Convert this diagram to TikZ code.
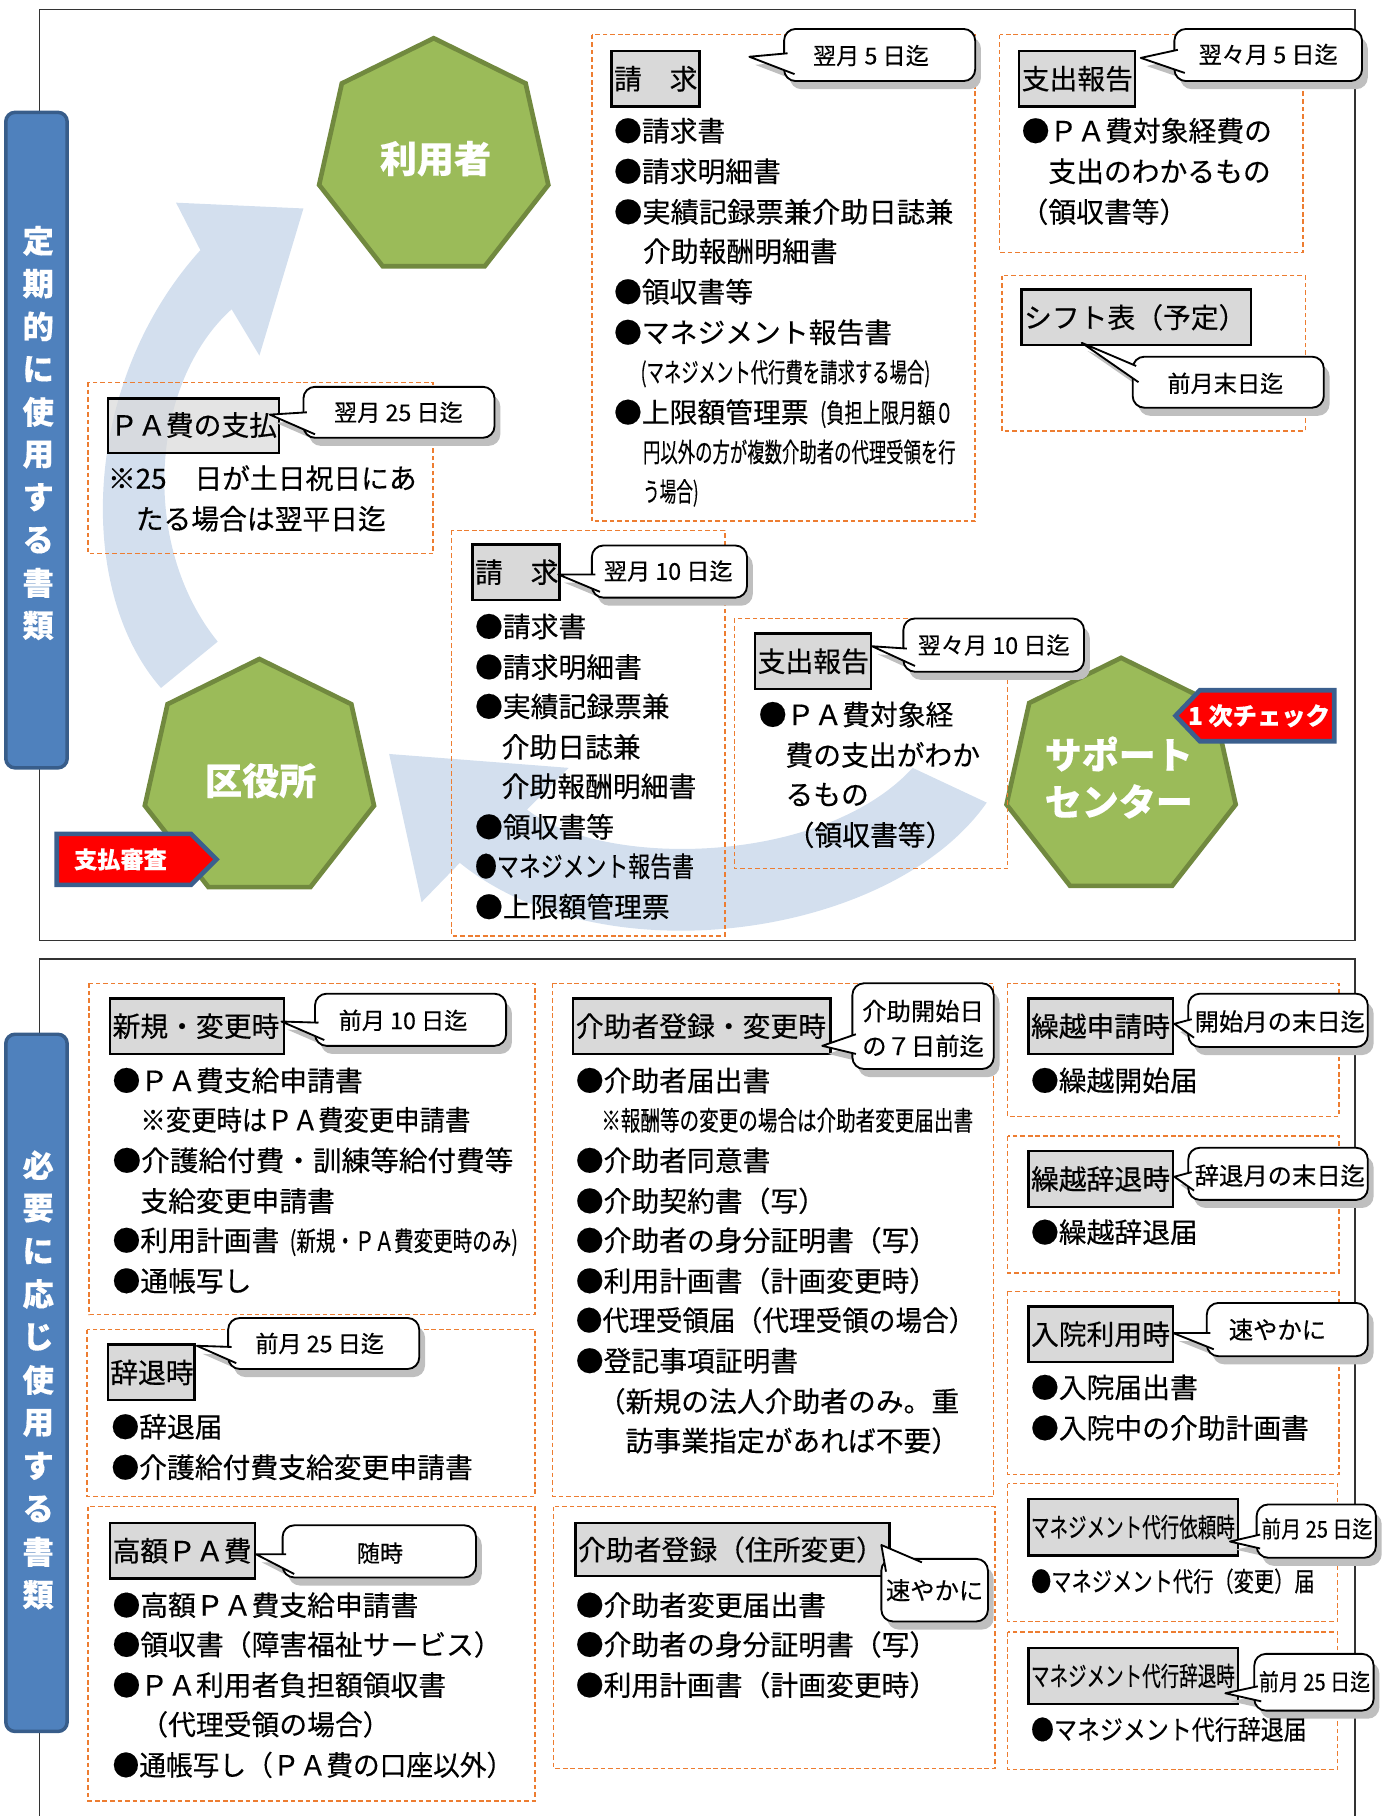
\documentclass[tikz,border=0pt]{standalone}
\usepackage{fontspec}
\setmainfont{Noto Sans CJK JP}[FakeBold=0.35]
\usepackage{graphicx}
\definecolor{dorange}{RGB}{237,125,49}
\definecolor{tgray}{RGB}{217,217,217}
\definecolor{hgreen}{RGB}{155,187,89}
\definecolor{hborder}{RGB}{113,137,63}
\definecolor{ablue}{RGB}{211,223,238}
\definecolor{bblue}{RGB}{79,129,189}
\definecolor{bborder}{RGB}{56,93,138}
\definecolor{tagblue}{RGB}{59,95,142}
\definecolor{shadowc}{RGB}{191,191,191}
\newcommand\fs[1]{\fontsize{#1}{#1}\selectfont}
\newcommand\sq[2]{\resizebox{#1pt}{\height}{#2}}
\newcounter{ln}
\newcommand\tl[3]{\stepcounter{ln}\node[txt] (L\theln) at (#1,{#2+9}) {#3};}
\newcommand\ttl[5]{\stepcounter{ln}\draw[tbox] (#1,#2) rectangle (#3,#4);
  \node[ttxt] (T\theln) at ({#1+2},{(#2+#4)/2}) {#5};}
\newcommand\dbx[4]{\draw[dbox] (#1,#2) rectangle (#3,#4);}
\newcommand\callout[2]{%
  \fill[shadowc, shift={(5,7)}, rounded corners=10pt] #1;
  \fill[shadowc, shift={(5,7)}] #2 -- cycle;
  \draw[callbox] #1;
  \filldraw[fill=white, draw=black, line width=1.6pt, line join=round] #2;}
\newcommand\ctx[3]{\stepcounter{ln}\node[ctxt] (C\theln) at (#1,#2) {#3};}
\newcommand\hept[2]{\draw[hept] (#1,{#2-103.6}) \foreach \k in {1,...,6}{ -- ({#1+101.5*cos(90+\k*360/7)},{#2-103.6*sin(90+\k*360/7)}) } -- cycle;}
\begin{document}
\begin{tikzpicture}[x=1pt,y=-1pt,
  panel/.style={draw=black!80, line width=1.3pt},
  dbox/.style={draw=dorange, dash pattern=on 4pt off 2.5pt, line width=1.2pt},
  tbox/.style={draw=black, fill=tgray, line width=2pt},
  hept/.style={fill=hgreen, draw=hborder, line width=4pt},
  tag/.style={fill=red, draw=tagblue, line width=4pt},
  banner/.style={fill=bblue, draw=bborder, line width=3pt, rounded corners=8pt},
  callbox/.style={draw=black, fill=white, line width=1.6pt, rounded corners=10pt},
  txt/.style={anchor=base west, inner sep=0pt, font=\fs{24}},
  ttxt/.style={anchor=west, inner sep=0pt, font=\fs{24}},
  ctxt/.style={anchor=center, inner sep=0pt, font=\fs{20}},
  hlabel/.style={text=white, font=\bfseries\fs{32}, inner sep=0pt},
  tagtxt/.style={text=white, font=\bfseries\fs{20}, inner sep=0pt},
  bantxt/.style={text=white, font=\bfseries\fs{27}, inner sep=0pt}]
\useasboundingbox (0,0) rectangle (1194,1568);
% panels
\draw[panel] (34,8) rectangle (1170,812);
\draw[panel] (34,1568) -- (34,828) -- (1170,828) -- (1170,1568);
% big curved arrows
\fill[ablue] (139,594) .. controls (65,510) and (70,330) .. (173,216) -- (152,175) -- (262,180) -- (224,307) -- (200,267) .. controls (130,330) and (120,470) .. (188,554) -- cycle;
\fill[ablue] (336,651) -- (491,663) -- (455,699) .. controls (520,750) and (710,748) .. (788,663) -- (852,693) .. controls (770,810) and (520,845) .. (397,745) -- (364,779) -- cycle;
% heptagons
\hept{374.5}{136.6}
\hept{224}{672.6}
\hept{968}{671.6}
\node[hlabel] (riyo) at (376,137) {利用者};
\node[hlabel] (kuyaku) at (225,674) {区役所};
\node[hlabel] (sc1) at (966,651) {サポート};
\node[hlabel] (sc2) at (966,692) {センター};
% tags
\draw[tag] (49,720) -- (165,720) -- (187,742) -- (165,764) -- (49,764) -- cycle;
\node[tagtxt] (shiharai) at (104,742) {支払審査};
\draw[tag] (1152,596) -- (1036,596) -- (1015,618) -- (1036,640) -- (1152,640) -- cycle;
\node[tagtxt, font=\bfseries\fs{21}] (check) at (1087,618) {1 次チェック};
% banners
\draw[banner] (5,97) rectangle (58,663);
\foreach \c [count=\i] in {定,期,的,に,使,用,す,る,書,類} \node[bantxt] (ba\i) at (33,{208+(\i-1)*36.9}) {\c};
\draw[banner] (5,893) rectangle (58,1495);
\foreach \c [count=\i] in {必,要,に,応,じ,使,用,す,る,書,類} \node[bantxt] (bb\i) at (33,{1006+(\i-1)*37.1}) {\c};
% dashed boxes
\dbx{76}{330}{374}{478}
\dbx{511}{30}{842}{450}
\dbx{863}{30}{1125}{218}
\dbx{865}{238}{1127}{372}
\dbx{390}{458}{626}{808}
\dbx{634}{534}{870}{750}
\dbx{77}{849}{462}{1135}
\dbx{75}{1148}{462}{1292}
\dbx{76}{1301}{462}{1555}
\dbx{477}{849}{858}{1292}
\dbx{478}{1301}{859}{1527}
\dbx{870}{849}{1156}{964}
\dbx{870}{981}{1156}{1099}
\dbx{870}{1115}{1156}{1273}
\dbx{870}{1281}{1155}{1400}
\dbx{870}{1409}{1155}{1528}
% title boxes
\draw[tbox, fill opacity=0.7] (93,344) rectangle (241,391);
\node[ttxt] (tpa) at (95,367) {ＰＡ費の支払};
\ttl{528}{44}{604}{92}{請　求}
\ttl{880}{44}{980}{92}{支出報告}
\ttl{882}{250}{1080}{298}{シフト表（予定）}
\ttl{408}{470}{483}{518}{請　求}
\ttl{652}{547}{752}{595}{支出報告}
\ttl{95}{862}{245}{910}{新規・変更時}
\ttl{93}{1161}{168}{1209}{辞退時}
\ttl{95}{1315}{220}{1363}{高額ＰＡ費}
\ttl{495}{862}{717}{910}{介助者登録・変更時}
\ttl{497}{1315}{768}{1361}{介助者登録（住所変更）}
\ttl{888}{862}{1013}{910}{繰越申請時}
\ttl{888}{994}{1013}{1042}{繰越辞退時}
\ttl{888}{1128}{1013}{1176}{入院利用時}
\ttl{888}{1294}{1069}{1343}{\fs{23}\sq{176}{マネジメント代行依頼時}}
\ttl{888}{1423}{1069}{1471}{\fs{23}\sq{176}{マネジメント代行辞退時}}
% callouts
\callout{(262,334) rectangle (427,378)}{(265,356) -- (233,358) -- (272,375)}
\ctx{344}{356}{翌月 25 日迄}
\callout{(677,25) rectangle (842,70)}{(680,46) -- (647,49) -- (686,64)}
\ctx{752}{48}{翌月 5 日迄}
\callout{(1014,25) rectangle (1176,70)}{(1017,43) -- (985,50) -- (1023,63)}
\ctx{1095}{47}{翌々月 5 日迄}
\callout{(978,308) rectangle (1143,352)}{(981,316) -- (934,296) -- (983,330)}
\ctx{1058}{331}{前月末日迄}
\callout{(511,471) rectangle (645,516)}{(514,496) -- (482,496) -- (518,511)}
\ctx{577}{493}{翌月 10 日迄}
\callout{(780,534) rectangle (936,580)}{(783,560) -- (753,558) -- (790,575)}
\ctx{858}{557}{翌々月 10 日迄}
\callout{(272,858) rectangle (437,903)}{(275,883) -- (243,882) -- (280,898)}
\ctx{348}{881}{前月 10 日迄}
\callout{(197,1138) rectangle (362,1182)}{(200,1163) -- (170,1162) -- (204,1177)}
\ctx{276}{1160}{前月 25 日迄}
\callout{(244,1317) rectangle (411,1362)}{(247,1342) -- (221,1342) -- (254,1359)}
\ctx{328}{1341}{随時}
\callout{(736,849) rectangle (858,923)}{(739,893) -- (710,903) -- (739,910)}
\ctx{797}{873}{\fs{21}介助開始日}
\ctx{797}{903}{\fs{21}の７日前迄}
\callout{(761,1346) rectangle (853,1400)}{(796,1349) -- (761,1334) -- (765,1357)}
\ctx{807}{1373}{\fs{21}速やかに}
\callout{(1026,858) rectangle (1181,904)}{(1029,880) -- (1014,884) -- (1031,896)}
\ctx{1105}{882}{\fs{21}開始月の末日迄}
\callout{(1026,991) rectangle (1181,1036)}{(1029,1012) -- (1014,1016) -- (1031,1028)}
\ctx{1105}{1015}{\fs{21}辞退月の末日迄}
\callout{(1042,1125) rectangle (1181,1171)}{(1045,1151) -- (1013,1151) -- (1048,1165)}
\ctx{1103}{1148}{\fs{21}速やかに}
\callout{(1085,1299) rectangle (1188,1345)}{(1088,1325) -- (1062,1331) -- (1088,1337)}
\ctx{1137}{1320}{\sq{96}{前月 25 日迄}}
\callout{(1083,1428) rectangle (1186,1477)}{(1086,1456) -- (1058,1462) -- (1089,1469)}
\ctx{1135}{1452}{\sq{96}{前月 25 日迄}}
% ---- texts top ----
\tl{93}{413}{※25　日が土日祝日にあ}
\tl{117}{448}{たる場合は翌平日迄}
\tl{530}{113}{●請求書}
\tl{530}{148}{●請求明細書}
\tl{530}{183}{\sq{293}{●実績記録票兼介助日誌兼}}
\tl{555}{217}{介助報酬明細書}
\tl{530}{252}{●領収書等}
\tl{530}{287}{●マネジメント報告書}
\tl{553}{321}{\fs{23}\sq{250}{(マネジメント代行費を請求する場合)}}
\tl{530}{356}{●上限額管理票}
\tl{708}{356}{\fs{23}\sq{115}{(負担上限月額０}}
\tl{555}{390}{\fs{23}\sq{270}{円以外の方が複数介助者の代理受領を行}}
\tl{555}{424}{\fs{23}\sq{48}{う場合)}}
\tl{882}{113}{●ＰＡ費対象経費の}
\tl{905}{148}{支出のわかるもの}
\tl{881}{183}{（領収書等）}
\tl{410}{541}{●請求書}
\tl{410}{576}{●請求明細書}
\tl{410}{610}{●実績記録票兼}
\tl{433}{645}{介助日誌兼}
\tl{433}{679}{介助報酬明細書}
\tl{410}{714}{●領収書等}
\tl{410}{748}{\sq{189}{●マネジメント報告書}}
\tl{410}{783}{●上限額管理票}
\tl{655}{617}{●ＰＡ費対象経}
\tl{678}{652}{費の支出がわか}
\tl{678}{686}{るもの}
\tl{679}{721}{（領収書等）}
% ---- texts bottom ----
\tl{97}{933}{●ＰＡ費支給申請書}
\tl{121}{967}{\sq{285}{※変更時はＰＡ費変更申請書}}
\tl{97}{1002}{\sq{346}{●介護給付費・訓練等給付費等}}
\tl{121}{1037}{支給変更申請書}
\tl{97}{1071}{●利用計画書}
\tl{250}{1071}{\fs{23}\sq{197}{(新規・ＰＡ費変更時のみ)}}
\tl{97}{1106}{●通帳写し}
\tl{96}{1232}{●辞退届}
\tl{96}{1267}{●介護給付費支給変更申請書}
\tl{97}{1386}{●高額ＰＡ費支給申請書}
\tl{97}{1420}{●領収書（障害福祉サービス）}
\tl{97}{1455}{●ＰＡ利用者負担額領収書}
\tl{121}{1489}{（代理受領の場合）}
\tl{97}{1524}{\sq{346}{●通帳写し（ＰＡ費の口座以外）}}
\tl{497}{933}{●介助者届出書}
\tl{519}{967}{\fs{23}\sq{321}{※報酬等の変更の場合は介助者変更届出書}}
\tl{497}{1002}{●介助者同意書}
\tl{497}{1037}{●介助契約書（写）}
\tl{497}{1071}{●介助者の身分証明書（写）}
\tl{497}{1106}{●利用計画書（計画変更時）}
\tl{497}{1140}{\sq{345}{●代理受領届（代理受領の場合）}}
\tl{497}{1175}{●登記事項証明書}
\tl{516}{1210}{（新規の法人介助者のみ。重}
\tl{540}{1244}{訪事業指定があれば不要）}
\tl{497}{1386}{●介助者変更届出書}
\tl{497}{1420}{●介助者の身分証明書（写）}
\tl{497}{1455}{●利用計画書（計画変更時）}
\tl{890}{933}{●繰越開始届}
\tl{890}{1064}{●繰越辞退届}
\tl{890}{1198}{●入院届出書}
\tl{890}{1233}{●入院中の介助計画書}
\tl{890}{1365}{\fs{23}\sq{245}{●マネジメント代行（変更）届}}
\tl{890}{1493}{\fs{23}\sq{238}{●マネジメント代行辞退届}}
\end{tikzpicture}
\end{document}
